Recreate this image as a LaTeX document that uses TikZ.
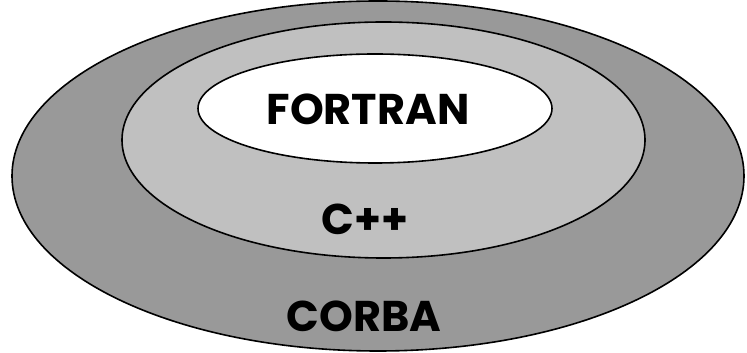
\documentclass[tikz,border=0pt]{standalone}
\usepackage{fontspec}
\setmainfont{Poppins}
\definecolor{ringdark}{HTML}{999999}
\definecolor{ringlight}{HTML}{C0C0C0}
\begin{document}
\begin{tikzpicture}[x=1pt,y=1pt,
  ring/.style={draw=black,line width=1.6pt},
  lbl/.style={inner sep=0pt,font=\bfseries\fontsize{43}{43}\selectfont}]
\useasboundingbox (0,0) rectangle (747,353);
% nested layers, outermost first
\path[ring,fill=ringdark] (378,177) ellipse [x radius=366,y radius=175];
\path[ring,fill=ringlight] (383.5,213) ellipse [x radius=261.5,y radius=118];
\path[ring,fill=white] (375,244.5) ellipse [x radius=177,y radius=54.5];
% layer names
\node[lbl,anchor=base] (fortran) at (368,228) {FORTRAN};
\node[lbl,anchor=base] (cpp) at (365,118) {C++};
\node[lbl,anchor=base] (corba) at (364,21) {CORBA};
\end{tikzpicture}
\end{document}
